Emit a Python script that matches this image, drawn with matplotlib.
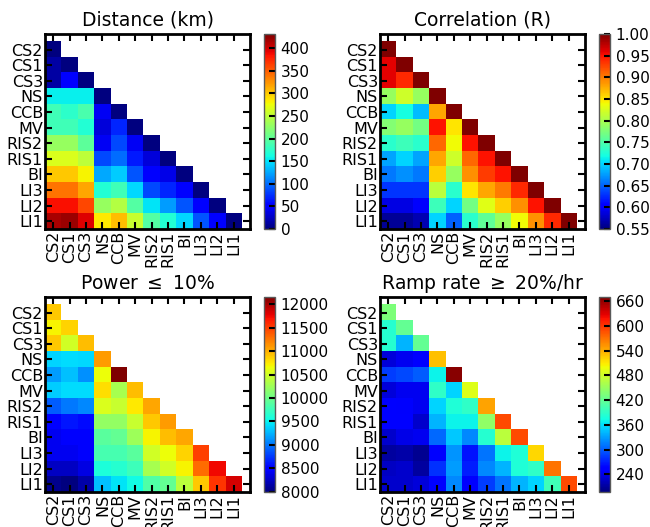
import matplotlib
matplotlib.use("Agg")
import matplotlib.pyplot as plt
import numpy as np

sites = ["CS2", "CS1", "CS3", "NS", "CCB", "MV", "RIS2", "RIS1", "BI", "LI3", "LI2", "LI1"]

# lower triangles, row i holds columns 0..i
distance = [
    [0],
    [15, 0],
    [15, 50, 0],
    [155, 155, 155, 0],
    [185, 175, 190, 45, 0],
    [185, 185, 170, 35, 70, 0],
    [230, 230, 200, 45, 85, 45, 0],
    [265, 265, 250, 85, 100, 65, 35, 0],
    [300, 300, 280, 125, 140, 90, 50, 40, 0],
    [340, 340, 315, 170, 185, 145, 85, 70, 50, 0],
    [385, 385, 360, 230, 245, 195, 150, 120, 90, 50, 0],
    [415, 420, 395, 285, 305, 255, 195, 170, 145, 90, 50, 0],
]

correlation = [
    [1.00],
    [0.96, 1.00],
    [0.96, 0.94, 1.00],
    [0.79, 0.82, 0.79, 1.00],
    [0.70, 0.72, 0.69, 0.88, 1.00],
    [0.78, 0.79, 0.77, 0.95, 0.85, 1.00],
    [0.73, 0.74, 0.73, 0.91, 0.84, 0.95, 1.00],
    [0.68, 0.70, 0.68, 0.88, 0.82, 0.91, 0.95, 1.00],
    [0.66, 0.67, 0.66, 0.86, 0.79, 0.89, 0.93, 0.95, 1.00],
    [0.63, 0.63, 0.63, 0.81, 0.73, 0.85, 0.88, 0.90, 0.94, 1.00],
    [0.59, 0.59, 0.60, 0.74, 0.70, 0.77, 0.83, 0.86, 0.89, 0.95, 1.00],
    [0.56, 0.56, 0.57, 0.70, 0.65, 0.73, 0.76, 0.79, 0.84, 0.89, 0.94, 1.00],
]

power_low = [
    [10900],
    [10700, 10850],
    [10900, 10500, 10950],
    [9380, 9420, 9400, 11100],
    [9150, 9300, 9100, 10650, 12150],
    [9350, 9420, 9420, 10800, 10300, 10950],
    [8900, 9000, 9080, 10550, 10450, 10750, 11050],
    [8500, 8600, 8550, 10200, 10200, 10450, 10900, 11100],
    [8400, 8450, 8450, 9900, 9950, 10250, 10700, 10950, 11050],
    [8400, 8400, 8450, 9800, 9800, 9900, 10500, 10650, 10850, 11500],
    [8250, 8250, 8350, 9600, 9650, 9750, 10300, 10500, 10700, 11300, 11750],
    [8050, 8000, 8150, 9300, 9450, 9550, 9850, 9950, 10400, 10900, 11550, 11850],
]

ramp_high = [
    [435],
    [385, 420],
    [385, 340, 420],
    [235, 245, 255, 530],
    [285, 290, 300, 370, 665],
    [235, 245, 245, 390, 355, 490],
    [255, 250, 245, 355, 380, 390, 545],
    [255, 255, 230, 340, 370, 370, 445, 590],
    [230, 240, 245, 305, 350, 320, 385, 470, 590],
    [210, 215, 205, 255, 325, 265, 310, 370, 380, 520],
    [225, 230, 210, 280, 330, 270, 320, 340, 380, 390, 570],
    [230, 230, 235, 255, 320, 255, 285, 310, 340, 355, 400, 590],
]

panels = [
    ("Distance (km)", distance, 0, 431, np.arange(0, 401, 50), "%d"),
    ("Correlation (R)", correlation, 0.55, 1.0, np.arange(0.55, 1.001, 0.05), "%.2f"),
    (r"Power $\leq$ 10%", power_low, 7990, 12160, np.arange(8000, 12001, 500), "%d"),
    (r"Ramp rate $\geq$ 20%/hr", ramp_high, 197, 670, np.arange(240, 661, 60), "%d"),
]


def toMatrix(rows):
    n = len(rows)
    m = np.full((n, n), np.nan)
    for i, r in enumerate(rows):
        m[i, :len(r)] = r
    return np.ma.masked_invalid(m)


W, H = 650.0, 527.0
fig = plt.figure(figsize=(6.5, 5.27), dpi=100)

# pixel boxes: (left, top) of each heatmap, colorbar left
boxes = [(45, 34, 264), (380, 34, 599), (45, 297, 264), (380, 297, 599)]
axW, axH = 205, 195
cbW = 11

for (title, rows, vmin, vmax, cticks, fmt), (lx, ty, cx) in zip(panels, boxes):
    ax = fig.add_axes([lx / W, 1 - (ty + axH) / H, axW / W, axH / H])
    im = ax.imshow(toMatrix(rows), cmap="jet", vmin=vmin, vmax=vmax,
                   interpolation="nearest", aspect="auto")
    ax.set_xlim(-0.5, 12.0)
    ax.set_ylim(11.5, -1.0)
    ax.set_xticks(range(len(sites)))
    ax.set_yticks(range(len(sites)))
    ax.set_xticklabels(sites, rotation=90, fontsize=11.5)
    ax.set_yticklabels(sites, fontsize=11.5)
    ax.tick_params(direction="in", top=True, right=True, length=5, width=1.5, pad=1.5)
    for s in ax.spines.values():
        s.set_linewidth(2)
    ax.set_title(title, fontsize=13.5, pad=6)

    cax = fig.add_axes([cx / W, 1 - (ty + axH) / H, cbW / W, axH / H])
    cb = fig.colorbar(im, cax=cax, ticks=cticks, format=fmt)
    cb.outline.set_edgecolor("0.35")
    cb.outline.set_linewidth(1)
    cax.tick_params(direction="in", length=4, width=1.5, labelsize=11, pad=4)

fig.savefig("out.png", dpi=100)
